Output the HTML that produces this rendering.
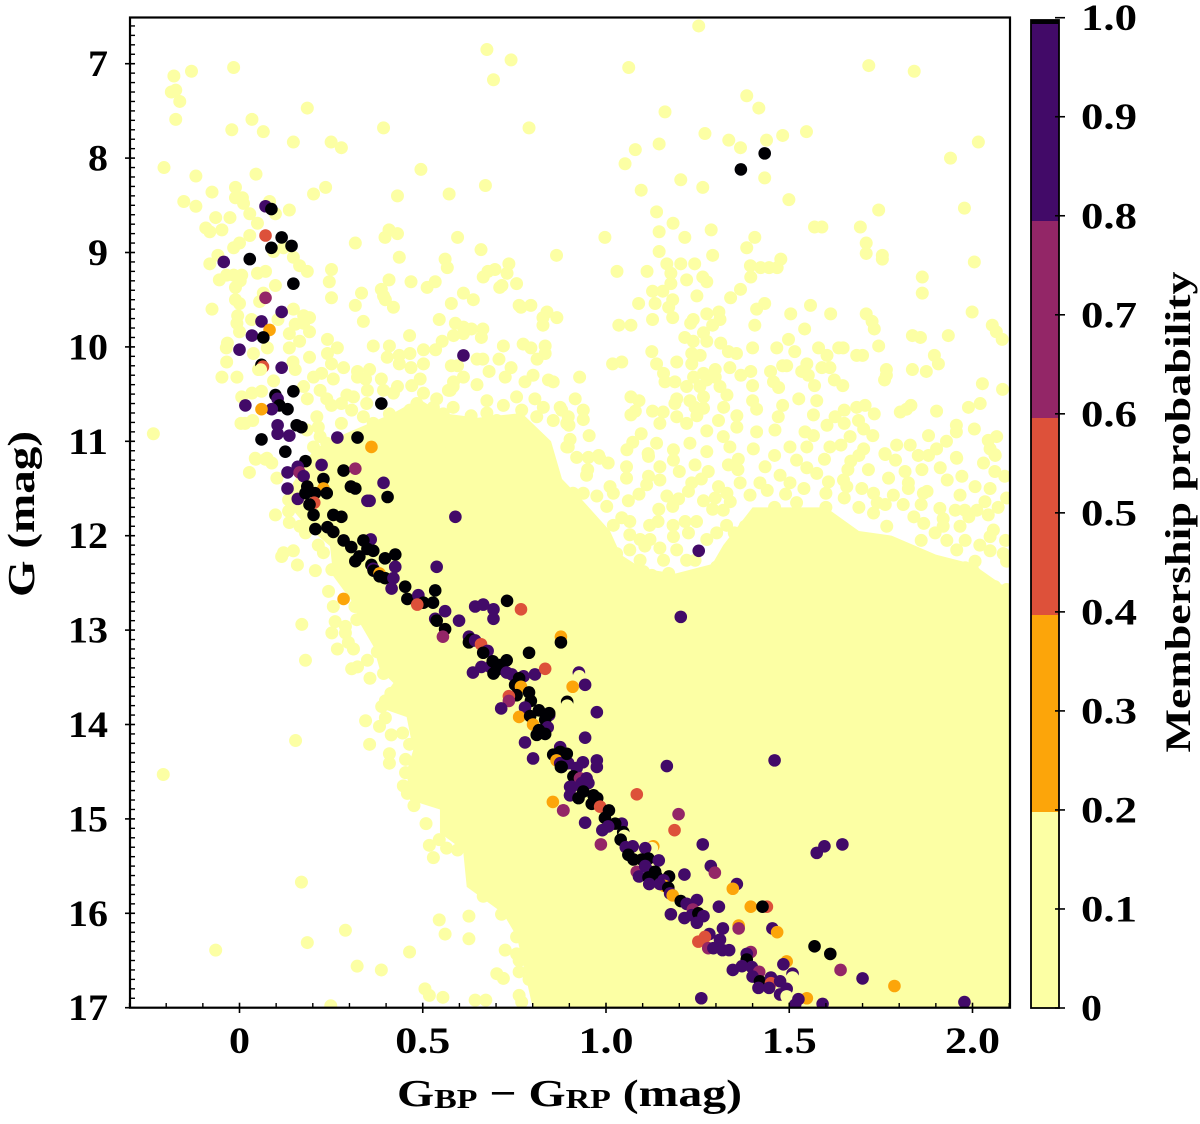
<!DOCTYPE html>
<html lang="en">
<head>
<meta charset="utf-8">
<title>Membership probability colour-magnitude diagram</title>
<style>
html,body{margin:0;padding:0;background:#fff;width:1200px;height:1124px;overflow:hidden}
svg{display:block}
text{font-family:"Liberation Serif",serif;font-weight:700;fill:#000}
</style>
</head>
<body>
<svg id="chart" xmlns="http://www.w3.org/2000/svg" width="1200" height="1124" viewBox="0 0 1200 1124">
  <defs><clipPath id="plot-clip"><rect x="130" y="17.5" width="880" height="990.2"/></clipPath></defs>
  <g id="plot" clip-path="url(#plot-clip)"></g>
  <rect x="130" y="17.5" width="880" height="990.2" fill="none" stroke="#000" stroke-width="2.2"/>
  <g id="axes"></g>
  <g id="cbar"></g>
  <text transform="translate(34,514) rotate(-90)" text-anchor="middle" font-size="38" textLength="166" lengthAdjust="spacingAndGlyphs">G (mag)</text>
  <text x="397" y="1106" font-size="38" textLength="345" lengthAdjust="spacingAndGlyphs">G<tspan font-size="27" dy="2">BP</tspan><tspan dy="-2"> − G</tspan><tspan font-size="27" dy="2">RP</tspan><tspan dy="-2"> (mag)</tspan></text>
  <text transform="translate(1190,512) rotate(-90)" text-anchor="middle" font-size="36" textLength="481" lengthAdjust="spacingAndGlyphs">Membership probability</text>
</svg>
<script>
const xTickValues=[0,0.5,1,1.5,2];
const xTickLabels=["0","0.5","1.0","1.5","2.0"];
const yTickValues=[7,8,9,10,11,12,13,14,15,16,17];
const yTickLabels=["7","8","9","10","11","12","13","14","15","16","17"];
const cbarTickValues=[0,0.1,0.2,0.3,0.4,0.5,0.6,0.7,0.8,0.9,1];
const cbarTickLabels=["0","0.1","0.2","0.3","0.4","0.5","0.6","0.7","0.8","0.9","1.0"];
const bandEdges=[0,0.2,0.4,0.6,0.8,1,1.004];
const bandColors=["#fcffa4","#fca50a","#dd513a","#932667","#420a68","#000004"];
const denseEdge=[[.80,17],[.757,16.25],[.719,16],[.62,15.72],[.61,15.33],[.547,15.15],[.547,14.9],[.465,14.8],[.456,14.5],[.474,14.27],[.456,13.92],[.374,13.81],[.42,13.56],[.383,13.42],[.365,13.17],[.329,12.93],[.311,12.72],[.256,12.43],[.247,12.11],[.183,11.9],[.137,11.69],[.146,11.44],[.2,11.1],[.24,11.0],[.33,10.85],[.42,10.7],[.49,10.55],[.55,10.7],[.65,10.75],[.77,10.7],[.85,11],[.88,11.4],[.93,11.6],[1.011,11.95],[1.04,12.2],[1.1,12.35],[1.19,12.4],[1.29,12.3],[1.32,12.1],[1.4,11.7],[1.6,11.7],[1.69,11.95],[1.78,12.0],[1.9,12.2],[2.0,12.3],[2.11,12.6],[2.11,17.1],[.80,17.1]];
const fieldStars=[[.675,6.85],[.741,6.96],[.693,7.17],[-.016,7.04],[-.131,7.08],[-.179,7.13],[-.174,7.28],[-.186,7.30],[-.163,7.40],[-.174,7.59],[.185,7.47],[.034,7.59],[-.021,7.70],[.065,7.72],[.147,7.83],[.25,7.83],[.278,7.89],[.393,7.68],[.79,7.68],[-.206,8.10],[-.119,8.19],[.045,8.17],[.495,8.12],[.671,8.29],[.572,8.38],[.431,8.40],[.235,8.31],[.202,8.38],[-.011,8.31],[-.011,8.42],[.008,8.42],[.011,8.48],[-.075,8.36],[-.152,8.46],[-.119,8.51],[.082,8.46],[.136,8.55],[.098,8.59],[.028,8.59],[-.065,8.63],[-.026,8.63],[.049,8.69],[-.092,8.74],[-.081,8.78],[-.048,8.76],[.028,8.82],[.408,8.76],[.397,8.84],[.431,8.80],[.595,8.84],[.316,8.90],[.659,8.97],[0,8.90],[-.016,8.95],[.12,8.95],[.093,8.99],[.147,9.05],[.164,9.14],[.185,9.20],[-.059,9.03],[-.081,9.12],[.865,9.03],[.436,9.05],[.561,9.07],[.567,9.16],[.735,9.12],[.697,9.18],[.678,9.20],[.665,9.26],[.73,9.22],[.756,9.33],[.716,9.35],[.71,9.37],[.251,9.18],[.245,9.31],[.251,9.48],[.049,9.22],[.071,9.20],[.006,9.24],[-.016,9.24],[-.035,9.24],[-.055,9.29],[.002,9.30],[-.011,9.37],[.098,9.35],[.408,9.29],[.468,9.31],[.534,9.31],[.512,9.37],[.387,9.39],[.393,9.46],[.398,9.50],[.42,9.58],[.333,9.43],[.316,9.56],[.611,9.43],[.638,9.50],[.578,9.54],[.065,9.43],[-.011,9.50],[0,9.54],[.055,9.52],[-.075,9.60],[.147,9.60],[.763,9.56],[.768,9.58],[.795,9.56],[.839,9.63],[.828,9.69],[.828,9.77],[.866,9.69],[.175,9.67],[.191,9.69],[.338,9.73],[.545,9.71],[.589,9.75],[.611,9.79],[.633,9.81],[.664,9.81],[.66,9.90],[.611,9.86],[.584,9.88],[.553,9.94],[.535,10.03],[.152,9.76],[.175,9.75],[.191,9.84],[.136,9.86],[.164,9.94],[.136,10.01],[-.005,9.67],[-.007,9.75],[.033,9.71],[.105,9.71],[0,9.84],[.464,9.88],[.24,9.92],[.267,10.01],[.24,10.07],[.365,9.99],[.409,9.99],[.403,10.11],[.436,10.09],[.465,10.07],[.502,10.03],[.436,10.18],[.468,10.22],[.502,10.18],[.72,9.99],[.774,9.97],[.795,10.01],[.834,9.99],[.834,10.07],[.812,10.13],[.648,10.13],[.664,10.13],[.708,10.13],[.578,10.20],[.595,10.20],[-.033,9.96],[-.036,10.01],[.038,10.07],[.076,10.01],[-.035,10.16],[.191,10.11],[.146,10.16],[.152,10.24],[.052,10.24],[-.048,10.32],[-.007,10.32],[.251,10.18],[.284,10.22],[.224,10.28],[.202,10.32],[.256,10.34],[.322,10.26],[.355,10.24],[.322,10.32],[.344,10.34],[.387,10.34],[.093,10.36],[.681,10.26],[.741,10.22],[.725,10.32],[.801,10.30],[.779,10.37],[.843,10.35],[.856,10.37],[.648,10.40],[.611,10.32],[.584,10.37],[.575,10.46],[.47,10.41],[.493,10.34],[.431,10.42],[.393,10.46],[.42,10.49],[.502,10.49],[.006,10.53],[.034,10.49],[.06,10.47],[.015,10.81],[.036,10.78],[.004,10.81],[.175,10.42],[.185,10.55],[.22,10.46],[.238,10.55],[.251,10.62],[.278,10.60],[.293,10.51],[.311,10.53],[.349,10.46],[.347,10.60],[.306,10.67],[.409,10.71],[.338,10.74],[.365,10.81],[.413,10.85],[.278,10.81],[.211,10.74],[.215,10.85],[.184,10.88],[.538,10.55],[.529,10.64],[.57,10.46],[.583,10.42],[.583,10.64],[.556,10.71],[.632,10.73],[.675,10.57],[.72,10.62],[.756,10.53],[.806,10.55],[.77,10.67],[.829,10.64],[.875,10.64],[.811,10.74],[.856,10.78],[.893,10.81],[.897,11.06],[.465,10.67],[.484,10.60],[.497,10.67],[.465,10.81],[.493,10.85],[.511,10.88],[.447,10.99],[.475,11.06],[.511,11.10],[.447,11.13],[.575,11.02],[.611,10.88],[.638,10.85],[.675,10.7],[.702,10.78],[.22,10.95],[.202,11.06],[.265,11.13],[.311,11.13],[.365,11.02],[.402,11.10],[.238,11.02],[.043,11.18],[.075,11.18],[.211,11.18],[-.235,10.92],
[1.253,6.60],[1.062,7.04],[1.717,7.02],[1.841,7.08],[1.384,7.34],[1.417,7.47],[1.161,7.51],[1.27,7.74],[1.335,7.81],[1.367,7.89],[1.438,7.81],[1.482,7.76],[1.547,7.72],[1.145,7.85],[1.08,7.91],[1.052,8.06],[2.016,7.83],[1.94,8.0],[1.204,8.23],[1.264,8.31],[1.096,8.34],[1.433,8.21],[1.499,8.44],[1.138,8.57],[1.744,8.55],[1.978,8.53],[1.183,8.69],[1.145,8.78],[1.215,8.84],[1.287,8.76],[.997,8.84],[1.406,8.84],[1.384,8.95],[1.569,8.73],[1.589,8.73],[1.694,8.73],[1.71,8.90],[1.71,9.01],[1.754,9.03],[1.754,9.07],[2.005,9.10],[1.145,8.99],[1.291,9.03],[1.166,9.12],[1.204,9.12],[1.242,9.12],[1.177,9.22],[1.177,9.33],[1.03,9.20],[1.112,9.20],[1.394,9.14],[1.422,9.16],[1.445,9.16],[1.467,9.16],[1.477,9.07],[1.395,9.26],[1.367,9.39],[1.34,9.48],[1.22,9.29],[1.264,9.26],[1.275,9.31],[1.248,9.46],[1.127,9.41],[1.155,9.41],[1.182,9.50],[1.171,9.58],[1.134,9.54],[1.089,9.54],[1.127,9.71],[1.182,9.69],[1.035,9.77],[1.068,9.77],[1.238,9.71],[1.231,9.75],[1.275,9.65],[1.308,9.63],[1.311,9.71],[1.291,9.77],[1.266,9.85],[1.433,9.54],[1.411,9.60],[1.504,9.65],[1.558,9.56],[1.613,9.65],[1.406,9.77],[1.542,9.81],[1.71,9.65],[1.726,9.73],[1.732,9.81],[1.744,9.99],[1.863,9.26],[1.863,9.43],[1.999,9.63],[2.054,9.77],[2.065,9.84],[2.081,9.92],[1.836,9.88],[1.858,9.90],[1.934,9.88],[1.896,10.09],[1.907,10.18],[1.836,10.24],[1.874,10.26],[1.765,10.24],[1.765,10.30],[1.76,10.35],[2.027,10.39],[2.082,10.45],[1.215,9.90],[1.238,9.94],[1.275,9.94],[1.313,9.96],[1.125,10.05],[1.138,10.18],[1.018,10.18],[1.043,10.16],[.928,10.32],[1.40,10.01],[1.334,10.05],[1.356,10.07],[1.466,10.01],[1.498,9.92],[1.515,10.05],[1.58,10.01],[1.603,10.09],[1.635,10.01],[1.647,10.01],[1.684,10.09],[1.7,10.09],[1.234,10.07],[1.193,10.16],[1.234,10.18],[1.257,10.09],[1.449,10.26],[1.482,10.20],[1.493,10.20],[1.548,10.18],[1.534,10.26],[1.589,10.22],[1.611,10.22],[1.457,10.37],[1.471,10.43],[1.552,10.30],[1.569,10.41],[1.623,10.35],[1.646,10.41],[1.4,10.41],[1.368,10.30],[1.395,10.26],[1.157,10.28],[1.161,10.37],[1.188,10.37],[1.298,10.24],[1.338,10.22],[1.298,10.32],[1.239,10.32],[1.266,10.28],[1.22,10.42],[1.256,10.42],[1.275,10.35],[1.311,10.42],[.916,10.55],[.938,10.67],[.938,10.77],[.899,10.83],[.879,10.67],[.897,10.74],[1.068,10.53],[1.09,10.57],[1.08,10.68],[1.068,10.72],[1.193,10.55],[1.188,10.60],[1.229,10.57],[1.266,10.53],[1.266,10.65],[1.243,10.64],[1.248,10.73],[1.127,10.68],[1.156,10.69],[1.147,10.81],[1.193,10.74],[1.22,10.81],[1.33,10.51],[1.321,10.64],[1.357,10.73],[1.307,10.78],[1.357,10.85],[1.4,10.57],[1.411,10.66],[1.482,10.62],[1.526,10.55],[1.575,10.57],[1.47,10.74],[1.566,10.72],[1.603,10.83],[1.625,10.74],[1.65,10.67],[1.65,10.81],[1.684,10.64],[1.707,10.62],[1.732,10.71],[1.689,10.78],[1.703,10.87],[1.728,10.94],[1.803,10.69],[1.82,10.66],[1.832,10.62],[1.902,10.68],[1.989,10.64],[2.021,10.60],[1.956,10.83],[1.956,10.90],[2.005,10.87],[1.88,10.94],[1.929,11.0],[2.043,10.99],[2.066,10.95],[2.048,11.08],[2.062,11.15],[1.793,11.04],[1.83,11.04],[1.761,11.13],[1.852,11.15],[1.902,11.08],[1.956,11.17],[1.275,10.89],[1.32,10.95],[1.411,10.90],[1.461,10.88],[1.543,10.90],[1.566,10.94],[1.666,10.95],[1.502,11.06],[1.548,11.06],[1.611,11.06],[1.641,11.04],[1.703,11.08],[1.402,11.08],[1.338,11.06],[1.275,11.11],[1.229,11.02],[1.184,11.09],[1.138,11.02],[1.115,11.13],[1.057,11.09],[1.073,11.01],[1.096,10.92],[.954,10.94],[.902,10.98],[.893,11.06],[.98,11.15],[.952,11.17],[.92,11.17],
[.983,11.18],[.947,11.36],[1.011,11.48],[1.006,11.23],[1.056,11.27],[1.056,11.39],[1.111,11.46],[1.147,11.41],[1.116,11.37],[1.116,11.16],[1.184,11.20],[1.147,11.27],[1.061,11.63],[.975,11.58],[1.002,11.69],[.938,11.55],[.91,11.55],[1.225,11.53],[1.234,11.44],[1.243,11.25],[1.279,11.32],[1.307,11.48],[1.334,11.25],[1.361,11.19],[1.266,11.63],[1.298,11.60],[1.339,11.64],[1.291,11.72],[1.32,11.73],[1.182,11.69],[1.198,11.61],[1.166,11.58],[1.144,11.72],[1.434,11.27],[1.366,11.44],[1.393,11.57],[1.42,11.44],[1.475,11.36],[1.548,11.28],[1.502,11.44],[1.575,11.34],[1.607,11.43],[1.596,11.19],[1.648,11.41],[1.657,11.48],[1.668,11.21],[1.698,11.50],[1.73,11.55],[1.716,11.30],[1.771,11.39],[1.825,11.44],[1.825,11.50],[1.816,11.32],[1.762,11.14],[1.862,11.30],[1.876,11.53],[1.912,11.28],[1.931,11.41],[1.957,11.18],[1.971,11.37],[1.966,11.57],[2.007,11.48],[2.03,11.23],[2.048,11.50],[2.061,11.32],[2.088,11.37],[2.061,11.14],[2.034,11.64],[2.093,11.60],[1.979,11.73],[1.953,11.73],[1.911,11.71],[1.866,11.55],[1.784,11.57],[1.762,11.67],[1.811,11.67],[2.012,11.73],[2.043,11.78],[1.966,11.90],[2.057,11.94],[2.048,12.01],[2.048,12.16],[2.084,12.19],[2.093,12.27],[2.007,12.27],[1.98,12.34],[1.957,12.15],[2.003,12.38],[2.093,12.57],[2.03,12.54],[2.061,12.54],[2.039,12.72],[2.057,12.82],[2.085,12.82],[1.898,11.97],[1.92,11.9],[1.867,11.87],[1.648,11.94],[1.73,11.76],[1.766,11.90],[1.584,11.80],[1.119,11.89],[1.142,11.85],[1.183,11.89],[1.216,11.85],[1.247,11.85],[1.225,11.97],[1.065,11.85],[1.043,11.81],[1.02,11.89],[1.065,11.99],[1.093,12.04],[1.12,12.04],[1.106,12.11],[1.147,12.13],[1.184,12.01],[1.275,12.04],[1.193,12.15],[1.029,12.19],[1.065,12.15],[1.093,12.26],[1.157,12.26],[1.22,12.26],[1.243,12.26],[1.043,12.33],[1.102,12.38],[1.125,12.42],[1.171,12.40],[1.234,12.43],[1.275,12.42],[1.065,12.43],[1.07,12.54],[1.193,12.61],[1.286,12.58],[1.329,12.64],[1.302,12.33],[1.32,12.40],[1.302,11.97],[1.329,11.89],[1.35,11.97],[1.38,11.9],[1.46,11.7],[1.52,11.65],[1.6,11.7],[1.44,11.52],[1.49,11.56],[1.54,11.5],[1.6,11.55],[1.65,11.6],[1.69,11.7],[1.74,11.65],[1.86,11.67],[1.92,11.82],[1.84,11.8],[1.99,11.8],[2.07,11.7],[1.98,12.05],[1.93,12.05],[2.02,12.1],[2.09,12.05],[1.86,12.05],[.95,11.3],[1.02,11.55],[1.09,11.56],[1.2,11.32],[1.26,11.4],[1.33,11.55],[1.36,11.3],[1.46,11.15],[1.52,11.2],[1.69,11.15],[1.79,11.2],[1.88,11.15],[1.66,11.3],
[.027,11.33],[.044,11.19],[.071,11.19],[.088,11.23],[.102,11.39],[.134,11.62],[.098,11.78],[.134,11.74],[.136,11.86],[.165,11.90],[.18,11.97],[.147,12.16],[.12,12.18],[.115,12.22],[.158,12.31],[.207,12.37],[.229,12.18],[.215,12.10],[.252,12.36],[.243,12.59],[.256,12.75],[.17,12.94],[.261,12.91],[.289,12.96],[.252,13.03],[.289,13.03],[.297,13.13],[.267,13.20],[.311,13.20],[.18,13.32],[.315,12.75],[.32,12.89],[.349,13.32],[.376,13.23],[.306,13.41],[.322,13.39],[.356,13.51],[.393,13.46],[.413,13.67],[.388,13.81],[.398,13.75],[.344,13.96],[.382,14.02],[.398,13.93],[.414,14.11],[.445,14.09],[.355,14.21],[.153,14.17],[.464,14.21],[.409,14.31],[.409,14.41],[.453,14.37],[.453,14.51],[-.208,14.53],[.447,14.65],[.458,14.73],[.476,14.86],[.509,15.05],[.518,15.28],[.545,15.22],[.529,15.41],[.565,15.31],[.595,15.33],[.169,15.67],[-.065,16.39],[.185,16.31],[.289,16.18],[.321,16.56],[.387,16.6],[.464,16.41],[.545,16.07],[.561,16.22],[.626,16.03],[.626,16.27],[.506,16.8],[.518,16.87],[.555,16.89],[.643,16.92],[.672,16.92],[.249,16.98],[.725,16.39],[.756,16.43],[.763,16.5],[.763,16.62],[.702,16.64],[.72,16.69],[.79,16.70],[.763,16.87],[.77,16.94],[.715,16.01],[.756,16.25],[.665,15.82]];
const memberStars=[[1.433,7.95,1],[1.368,8.12,1],[.071,8.51,.9],[.087,8.54,1],[.071,8.82,.5],[.115,8.84,1],[.142,8.93,1],[.087,8.95,1],[-.043,9.10,.9],[.028,9.07,1],[.147,9.33,1],[.071,9.48,.7],[.115,9.63,.9],[.06,9.73,.9],[.082,9.82,.3],[.034,9.88,.9],[.065,9.90,1],[0,10.03,.9],[.06,10.19,1],[.064,10.21,.5],[.058,10.24,.1],[.115,10.22,.9],[.611,10.09,.9],[.147,10.47,1],[.098,10.51,1],[.104,10.55,.9],[.109,10.62,1],[.088,10.66,.9],[.131,10.66,1],[.06,10.66,.3],[.016,10.62,.9],[.387,10.60,1],[.104,10.83,.9],[.104,10.92,.9],[.136,10.94,.9],[.06,10.98,1],[.156,10.83,1],[.169,10.85,1],[.267,10.96,.9],[.322,10.96,1],[.36,11.06,.3],[.125,11.11,1],[.18,11.21,1],[.224,11.25,.9],[.284,11.31,1],[.316,11.29,.7],[.159,11.27,.9],[.131,11.33,.9],[.164,11.33,.7],[.175,11.37,.9],[.229,11.40,1],[.229,11.50,.3],[.185,11.48,1],[.131,11.50,.9],[.304,11.48,1],[.316,11.50,1],[.393,11.44,.9],[.404,11.59,1],[.349,11.63,.9],[.355,11.63,.9],[.159,11.61,.9],[.18,11.55,1],[.206,11.55,1],[.238,11.55,1],[.204,11.65,.5],[.191,11.67,1],[.202,11.78,1],[.256,11.78,1],[.278,11.80,1],[.589,11.80,.9],[.207,11.93,1],[.24,11.91,1],[.256,11.96,1],[.284,12.05,1],[.305,12.12,1],[.358,12.04,.9],[.338,12.05,1],[.349,12.14,1],[.365,12.16,1],[.327,12.22,1],[.316,12.27,1],[.425,12.20,1],[.397,12.24,1],[.425,12.33,.9],[.36,12.31,1],[.365,12.35,.9],[.366,12.37,1],[.382,12.40,.3],[.382,12.43,1],[.397,12.45,1],[.42,12.45,.9],[.415,12.56,.9],[.538,12.33,.9],[.452,12.54,1],[.458,12.67,1],[.488,12.63,.9],[.502,12.71,1],[.485,12.73,.5],[.528,12.71,1],[.534,12.58,1],[.561,12.80,.9],[.534,12.88,.9],[.538,12.90,1],[.599,12.90,.9],[.561,12.99,1],[.555,13.07,.7],[.643,12.75,.9],[.665,12.73,.9],[.693,12.78,.9],[.693,12.88,.9],[.73,12.69,1],[.768,12.78,.5],[.284,12.67,.3],[.626,13.07,.9],[.632,13.1,1],[.626,13.13,1],[.643,13.11,.9],[.659,13.15,.5],[.677,13.22,.9],[.665,13.24,1],[.79,13.24,1],[.877,13.07,.3],[.877,13.13,1],[.637,13.45,.9],[.66,13.39,.9],[.684,13.39,.9],[.691,13.33,1],[.711,13.37,1],[.729,13.32,1],[.702,13.42,1],[.693,13.46,1],[.729,13.45,.9],[.743,13.47,.9],[.775,13.49,.9],[.806,13.47,.9],[.834,13.41,.5],[.763,13.51,1],[.752,13.58,1],[.768,13.6,.3],[.756,13.69,1],[.79,13.66,1],[.795,13.75,1],[.735,13.70,.5],[.735,13.75,.7],[.714,13.83,.9],[.779,13.82,.9],[.763,13.92,.3],[.793,13.91,1],[.817,13.85,1],[.845,13.90,.9],[.845,13.88,1],[.834,13.95,1],[.801,14.0,.3],[.841,14.03,.9],[.817,14.06,1],[.811,14.11,1],[.834,14.10,1],[.779,14.19,.9],[.875,14.24,.9],[.856,14.32,1],[.875,14.29,1],[.865,14.38,.3],[.801,14.36,.9],[.875,14.41,.9],[.893,14.41,.9],[.877,14.45,1],[.855,14.82,.3],[.883,14.91,.7],[.902,14.66,.9],[.902,14.75,.9],[.926,13.45,.9],[.927,13.49,.1],[.909,13.60,.3],[.943,13.58,.9],[.894,13.76,1],[.894,13.8,.1],[.975,13.87,.9],[.943,14.14,.9],[1.253,12.16,.9],[1.204,12.86,.9],[1.166,14.44,.9],[1.46,14.38,.9],[.975,14.38,.9],[.975,14.45,.9],[.937,14.40,.9],[.897,14.41,.9],[.893,14.31,1],[.879,14.45,1],[.92,14.46,.9],[.911,14.55,1],[.929,14.57,.7],[.947,14.57,.9],[.934,14.62,.9],[.952,14.62,.9],[.907,14.66,.9],[.902,14.75,.9],[.938,14.71,1],[.925,14.78,1],[.966,14.75,1],[.976,14.78,1],[.961,14.84,1],[1.084,14.74,.5],[.984,14.87,.5],[1.008,14.91,1],[.884,14.91,.7],[1.198,14.95,.7],[1.187,15.12,.5],[.943,15.04,.9],[.997,14.99,1],[1.043,15.05,.9],[1.025,15.05,1],[1.006,15.08,.9],[.99,15.12,.9],[1.047,15.14,1],[1.05,15.18,.1],[1.04,15.22,1],[.986,15.27,.7],[1.264,15.27,.9],[1.575,15.36,.9],[1.596,15.29,.9],[1.645,15.27,.9],[1.129,15.29,.3],[1.125,15.31,.1],[1.107,15.31,.9],[1.073,15.29,.9],[1.054,15.30,.9],[1.061,15.38,1],[1.075,15.43,1],[1.098,15.43,1],[1.116,15.42,1],[1.144,15.44,.9],[1.084,15.56,.7],[1.09,15.61,.9],[1.107,15.50,.9],[1.121,15.56,.9],[1.134,15.56,1],[1.116,15.62,1],[1.138,15.61,1],[1.118,15.69,.9],[1.214,15.59,.9],[1.172,15.61,1],[1.157,15.65,.9],[1.159,15.71,.3],[1.147,15.69,.9],[1.17,15.73,1],[1.175,15.79,.9],[1.182,15.81,.3],[1.286,15.50,.9],[1.297,15.57,.7],[1.357,15.69,.9],[1.346,15.74,.3],[1.204,15.87,1],[1.22,15.90,.9],[1.248,15.86,.9],[1.237,15.96,.7],[1.308,15.93,.9],[1.395,15.93,.3],[1.439,15.93,.5],[1.427,15.93,1],[1.177,16.01,.9],[1.214,16.05,.9],[1.234,16.02,.9],[1.252,16.0,1],[1.266,16.03,.9],[1.248,16.1,.9],[1.362,16.13,.3],[1.362,16.16,.7],[1.454,16.16,.9],[1.467,16.2,.3],[1.319,16.16,.9],[1.569,16.35,1],[1.612,16.43,1],[1.282,16.22,.9],[1.27,16.25,.5],[1.252,16.30,.5],[1.311,16.28,.9],[1.279,16.37,.7],[1.293,16.37,.9],[1.318,16.39,.9],[1.336,16.39,.9],[1.395,16.41,.7],[1.384,16.43,.9],[1.384,16.49,1],[1.493,16.51,.3],[1.484,16.54,.9],[1.64,16.6,.7],[1.7,16.69,.9],[1.787,16.77,.3],[1.346,16.60,.9],[1.371,16.56,.9],[1.398,16.57,.9],[1.418,16.62,.7],[1.4,16.67,.9],[1.509,16.64,.9],[1.509,16.68,.1],[1.42,16.72,1],[1.45,16.68,.9],[1.45,16.74,.5],[1.475,16.72,.9],[1.416,16.79,.9],[1.445,16.79,.9],[1.493,16.80,.9],[1.475,16.86,.9],[1.493,16.88,.1],[1.548,16.90,.3],[1.525,16.91,.9],[1.516,16.97,.9],[1.591,16.96,.9],[1.978,16.94,.9],[1.26,16.90,.9]];

const NS='http://www.w3.org/2000/svg';
function xScale(c){return 239.5+c*366.5;}
function yScale(g){return 63.7+(g-7)*94.4;}
function cbarY(p){return 812-(p-0.2)*985;}
function cbarTickY(p){return 1008-p*990.3;}
function colorFor(p){
  for(let i=0;i<bandColors.length;i++){if(p<bandEdges[i+1])return bandColors[i];}
  return bandColors[bandColors.length-1];
}
function make(tag,parent,attrs){
  const el=document.createElementNS(NS,tag);
  for(const k in attrs)el.setAttribute(k,attrs[k]);
  parent.appendChild(el);
  return el;
}
function labelWidth(s){
  let w=0;
  for(const ch of s)w+=(ch==='.')?15:20;
  return w;
}
const plot=document.getElementById('plot');
const axes=document.getElementById('axes');
const cbar=document.getElementById('cbar');

const dense=make('polygon',plot,{points:denseEdge.map(p=>xScale(p[0])+','+yScale(p[1])).join(' '),fill:bandColors[0]});



fieldStars.forEach(s=>{
  const el=make('circle',plot,{cx:xScale(s[0]),cy:yScale(s[1]),r:6.5,fill:bandColors[0]});
  
  
});
memberStars.forEach(s=>{
  const el=make('circle',plot,{cx:xScale(s[0]),cy:yScale(s[1]),r:6.3,fill:colorFor(s[2])});
  
  
});

xTickValues.forEach((v,i)=>{
  const x=xScale(v);
  const t=make('line',axes,{x1:x,x2:x,y1:1002.7,y2:1013,stroke:'#000','stroke-width':1.6});
  
  
  const s=xTickLabels[i];
  const l=make('text',axes,{x:x,y:1053,'text-anchor':'middle','font-size':37,textLength:labelWidth(s)*(s.length>1?1:1.05),lengthAdjust:'spacingAndGlyphs'});
  l.textContent=s;
  
  
});
for(let k=-3;k<=21;k++){
  if(k%5===0)continue;
  const x=xScale(k/10);
  const t=make('line',axes,{x1:x,x2:x,y1:1003,y2:1007.7,stroke:'#000','stroke-width':1.4});
  
  
}
yTickValues.forEach((v,i)=>{
  const y=yScale(v);
  const t=make('line',axes,{x1:125,x2:135,y1:y,y2:y,stroke:'#000','stroke-width':1.6});
  
  
  const s=yTickLabels[i];
  const l=make('text',axes,{x:108,y:y+12.5,'text-anchor':'end','font-size':37,textLength:labelWidth(s),lengthAdjust:'spacingAndGlyphs'});
  l.textContent=s;
  
  
});
for(let k=66;k<=169;k++){
  if(k%10===0)continue;
  const y=yScale(k/10);
  const t=make('line',axes,{x1:130,x2:135,y1:y,y2:y,stroke:'#000','stroke-width':1.4});
  
  
}

bandColors.forEach((c,i)=>{
  const top=i===bandColors.length-1?20:cbarY(bandEdges[i+1]);
  const bottom=i===0?1008:cbarY(bandEdges[i]);
  const el=make('rect',cbar,{x:1031,y:top,width:28,height:bottom-top,fill:c});
  
  
});
const cbarFrame=make('rect',cbar,{x:1031,y:20,width:28,height:988,fill:'none',stroke:'#000','stroke-width':1.8});


cbarTickValues.forEach((v,i)=>{
  const y=cbarTickY(v);
  const t=make('line',cbar,{x1:1055,x2:1065,y1:y,y2:y,stroke:'#000','stroke-width':1.6});
  
  
  const s=cbarTickLabels[i];
  const l=make('text',cbar,{x:1081,y:y+12.5,'font-size':37,textLength:s.length>1?56:21,lengthAdjust:'spacingAndGlyphs'});
  l.textContent=s;
  
  
});
</script>
</body>
</html>
